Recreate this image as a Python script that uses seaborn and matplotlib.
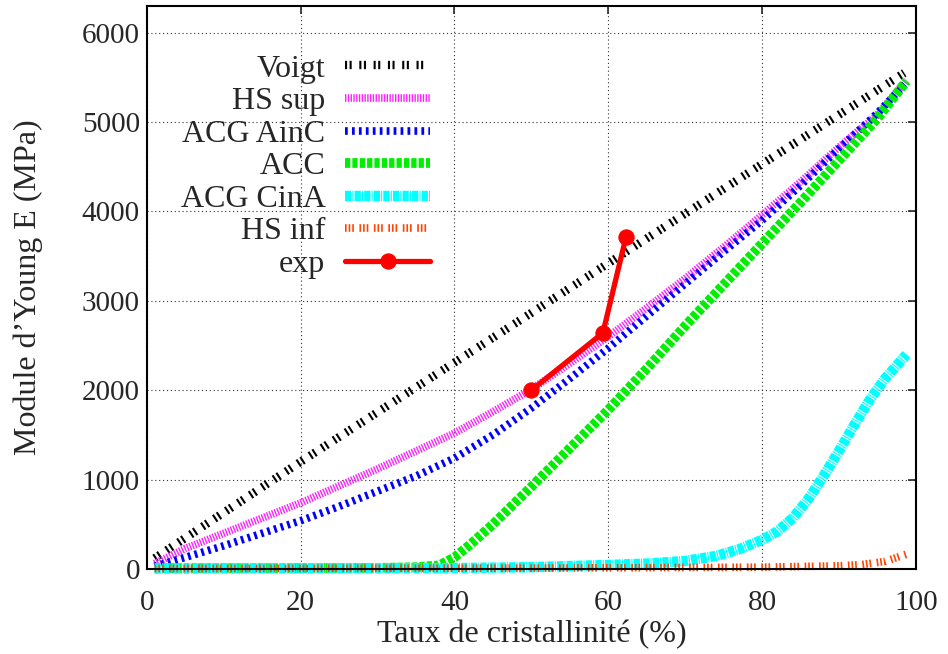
import matplotlib
matplotlib.use('Agg')
import matplotlib.pyplot as plt
import seaborn as sns

# Values (x = crystallinity %, y = Young modulus MPa)
voigt_x = [1, 20, 40, 60, 80, 98.5]
voigt_y = [120, 1200, 2310, 3420, 4530, 5550]

hs_sup_x = [1, 5, 10, 15, 20, 25, 30, 35, 40, 45, 50, 55, 60, 65, 70, 75, 80, 85, 90, 95, 98.8]
hs_sup_y = [60, 230, 400, 570, 740, 930, 1120, 1320, 1520, 1760, 2010, 2300, 2600, 2920,
            3250, 3600, 3960, 4330, 4720, 5080, 5470]

ainc_x = [1, 5, 10, 15, 20, 25, 30, 35, 40, 45, 50, 55, 60, 65, 70, 75, 80, 85, 90, 95, 98.8]
ainc_y = [30, 130, 260, 400, 540, 700, 870, 1040, 1240, 1500, 1800, 2130, 2470, 2830,
          3190, 3550, 3900, 4290, 4700, 5100, 5440]

acc_x = [1, 10, 20, 30, 35, 38, 40, 42, 45, 50, 55, 60, 65, 70, 75, 80, 85, 90, 95, 98.8]
acc_y = [10, 10, 10, 12, 20, 40, 130, 270, 500, 920, 1350, 1780, 2240, 2720, 3180,
         3640, 4100, 4570, 5040, 5460]

cina_x = [1, 40, 50, 60, 65, 70, 74, 77, 80, 82, 84, 86, 88, 90, 92, 94, 96, 98.8]
cina_y = [5, 10, 20, 45, 60, 90, 145, 220, 325, 420, 570, 780, 1040, 1320, 1610,
          1890, 2130, 2400]

hs_inf_x = [1, 50, 80, 90, 93, 96, 98.8]
hs_inf_y = [5, 10, 20, 35, 50, 85, 165]

exp_x = [50, 59.3, 62.3]
exp_y = [2000, 2640, 3710]

sns.set_style('white')
plt.rcParams['font.family'] = ['Liberation Serif', 'DejaVu Serif']
plt.rcParams['lines.scale_dashes'] = False

fig = plt.figure(figsize=(9.48, 6.54), dpi=100)
ax = fig.add_axes([0.155, 0.13, 0.811, 0.861])

# Model curves (gnuplot-like thick dashed lines)
sns.lineplot(x=voigt_x, y=voigt_y, ax=ax, color='black', lw=6,
             linestyle=(0, (1.5, 1.8, 1.5, 5.5)), label='Voigt', clip_on=False)
sns.lineplot(x=hs_sup_x, y=hs_sup_y, ax=ax, color='#ff20ff', lw=5.5,
             linestyle=(0, (1.0, 1.0)), label='HS sup', clip_on=False)
sns.lineplot(x=ainc_x, y=ainc_y, ax=ax, color='#0000ff', lw=5.5,
             linestyle=(0, (2.0, 3.0)), label='ACG AinC', clip_on=False)
sns.lineplot(x=acc_x, y=acc_y, ax=ax, color='#00ee00', lw=7,
             linestyle=(0, (3.8, 1.5)), label='ACC', clip_on=False)
sns.lineplot(x=cina_x, y=cina_y, ax=ax, color='#00ffff', lw=7.5,
             linestyle=(0, (4.5, 0.8, 0.8, 0.8)), label='ACG CinA', clip_on=False)
sns.lineplot(x=hs_inf_x, y=hs_inf_y, ax=ax, color='#ff4500', lw=5.5,
             linestyle=(0, (1.2, 1.4, 1.2, 1.4, 1.2, 4.0)), label='HS inf', clip_on=False)
sns.lineplot(x=exp_x, y=exp_y, ax=ax, color='#ff0000', lw=3.8, marker='o',
             markersize=11, markeredgecolor='#ff0000', label='exp', clip_on=False)

# Axes
ax.set_xlim(0, 100)
ax.set_ylim(0, 6300)
ax.set_xticks([0, 20, 40, 60, 80, 100])
ax.set_yticks([0, 1000, 2000, 3000, 4000, 5000, 6000])
ax.grid(True, color='0.2', lw=0.8, linestyle=(0, (0.8, 2.0)))
ax.set_axisbelow(True)
ax.tick_params(direction='in', length=6, width=1.2, top=True, right=True, labelsize=21)
ax.tick_params(axis='x', pad=15)
ax.tick_params(axis='y', pad=5)
for sp in ax.spines.values():
    sp.set_linewidth(1.5)
    sp.set_color('black')

ax.set_xlabel('Taux de cristallinité (%)', fontsize=23)
ax.set_ylabel('Module d\u2019Young E (MPa)', fontsize=23)
ax.xaxis.set_label_coords(0.5, -0.09)
ax.yaxis.set_label_coords(-0.135, 0.5)

# Legend, gnuplot style: labels right-aligned left of samples
leg = ax.legend(loc='upper right', bbox_to_anchor=(0.3685, 0.914), frameon=False,
                markerfirst=False, fontsize=23, handlelength=2.66, handletextpad=0.62,
                labelspacing=0.1, borderpad=0, borderaxespad=0, numpoints=1)

plt.savefig('out.png', dpi=100)
